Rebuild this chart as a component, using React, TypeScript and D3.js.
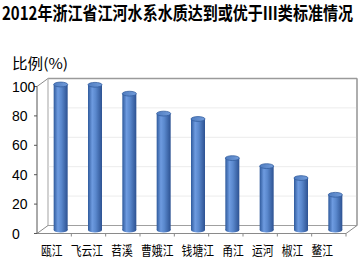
import React from 'react';
import * as d3 from 'd3';

const TITLE = '2012年浙江省江河水系水质达到或优于Ⅲ类标准情况';
const Y_LABEL = '比例(%)';
const CATEGORIES = ['瓯江', '飞云江', '苕溪', '曹娥江', '钱塘江', '甬江', '运河', '椒江', '鳌江'];
const VALUES = [100, 99.8, 93.7, 80, 76.3, 49.4, 43.9, 35.7, 24.2];
const Y_TICKS = [0, 20, 40, 60, 80, 100];

const W = 358;
const H = 268;
const X0 = 37;
const X1 = 346;
const DX = 11;
const DY = -8;
const BAR_W = 14;
const RY = 2.4;

export default function App() {
  const yFront = d3.scaleLinear().domain([0, 100]).range([233.5, 86.5]);
  const yBar = d3.scaleLinear().domain([0, 100]).range([230, 84.5]);
  const x = d3.scaleBand<string>().domain(CATEGORIES).range([X0, X1]).padding(0);
  const bw = x.bandwidth();
  const barCx = (c: string) => (x(c) as number) + bw / 2 + 6.5;

  const yTop = yFront(100);
  const yBot = yFront(0);
  const bx0 = X0 + DX;
  const bx1 = X1 + DX;

  const charW = 10.8;
  const gap = 8.15;
  let cursor = 41;
  const labelPos = CATEGORIES.map((c) => {
    const w = c.length * charW;
    const p = { c, x: cursor, w };
    cursor += w + gap;
    return p;
  });

  return (
    <svg width={W} height={H} style={{ position: 'absolute', left: 0, top: 0, background: '#fff' }}>
      <defs>
        <linearGradient id="cyl" x1="0" x2="1" y1="0" y2="0">
          <stop offset="0%" stopColor="#2f5a9c" />
          <stop offset="30%" stopColor="#6e9be0" />
          <stop offset="55%" stopColor="#5a88cd" />
          <stop offset="100%" stopColor="#2d5292" />
        </linearGradient>
        <linearGradient id="cyltop" x1="0" x2="1" y1="0" y2="0">
          <stop offset="0%" stopColor="#4f7cc0" />
          <stop offset="100%" stopColor="#729cda" />
        </linearGradient>
      </defs>
      <rect x={0} y={0} width={W} height={H} fill="#fff" />

      <text
        x={2}
        y={19.5}
        fontFamily="'Noto Sans CJK SC', sans-serif"
        fontWeight="bold"
        fontSize={18}
        textLength={351}
        lengthAdjust="spacingAndGlyphs"
        fill="#000"
      >
        {TITLE}
      </text>

      <text x={12} y={69} fontFamily="'Noto Sans CJK SC', sans-serif" fontSize={14.5} fill="#000"
        textLength={56} lengthAdjust="spacingAndGlyphs">
        {Y_LABEL}
      </text>

      <rect x={bx0} y={yTop + DY} width={bx1 - bx0} height={yBot - yTop} fill="#fff" stroke="#bdbdbd" strokeWidth={1} />
      {Y_TICKS.filter((t) => t > 0).map((t) => (
        <line key={'g' + t} x1={bx0} x2={bx1} y1={yFront(t) + DY} y2={yFront(t) + DY} stroke="#ececec" strokeWidth={1} />
      ))}
      <line x1={bx0} x2={bx1} y1={yTop + DY} y2={yTop + DY} stroke="#9a9a9a" strokeWidth={1.6} />
      <line x1={bx1} x2={bx1} y1={yTop + DY} y2={yBot + DY} stroke="#9a9a9a" strokeWidth={1.4} />

      <line x1={X0} y1={yTop} x2={bx0} y2={yTop + DY} stroke="#8a8a8a" strokeWidth={1} />
      <line x1={bx0} y1={yTop + DY} x2={bx0} y2={yBot + DY} stroke="#c4c4c4" strokeWidth={1} />

      <line x1={X0} y1={yBot} x2={bx0} y2={yBot + DY} stroke="#8a8a8a" strokeWidth={1} />
      <line x1={bx0} y1={yBot + DY} x2={bx1} y2={yBot + DY} stroke="#a0a0a0" strokeWidth={1} />
      <line x1={X1} y1={yBot} x2={bx1} y2={yBot + DY} stroke="#8a8a8a" strokeWidth={1} />
      <line x1={X0} y1={yBot} x2={X1} y2={yBot} stroke="#8a8a8a" strokeWidth={1} />
      {CATEGORIES.map((c, i) => (
        <line key={'ft' + i} x1={(x(c) as number) + bw} x2={(x(c) as number) + bw} y1={yBot} y2={yBot + 3} stroke="#8a8a8a" strokeWidth={1} />
      ))}

      <line x1={X0} y1={yTop} x2={X0} y2={yBot} stroke="#555" strokeWidth={1} />
      {Y_TICKS.map((t) => (
        <g key={'t' + t}>
          <line x1={X0 - 3} x2={X0} y1={yFront(t)} y2={yFront(t)} stroke="#555" strokeWidth={1} />
          <text x={12} y={yFront(t) + 5} fontFamily="'Liberation Sans', Arial, sans-serif" fontSize={14} fill="#000">
            {t}
          </text>
        </g>
      ))}

      {CATEGORIES.map((c, i) => {
        const cx = barCx(c);
        const yt = yBar(VALUES[i]);
        const yb = yBar(0);
        return (
          <g key={'b' + i}>
            <ellipse cx={cx} cy={yb} rx={BAR_W / 2} ry={RY} fill="url(#cyl)" />
            <rect x={cx - BAR_W / 2} y={yt} width={BAR_W} height={yb - yt} fill="url(#cyl)" />
            <ellipse cx={cx} cy={yt} rx={BAR_W / 2} ry={RY} fill="url(#cyltop)" stroke="#345e9f" strokeWidth={0.8} />
          </g>
        );
      })}

      {labelPos.map((p) => (
        <text
          key={p.c}
          x={p.x}
          y={255}
          fontFamily="'Noto Sans CJK SC', sans-serif"
          fontSize={13}
          textLength={p.w}
          lengthAdjust="spacingAndGlyphs"
          fill="#000"
        >
          {p.c}
        </text>
      ))}
    </svg>
  );
}
